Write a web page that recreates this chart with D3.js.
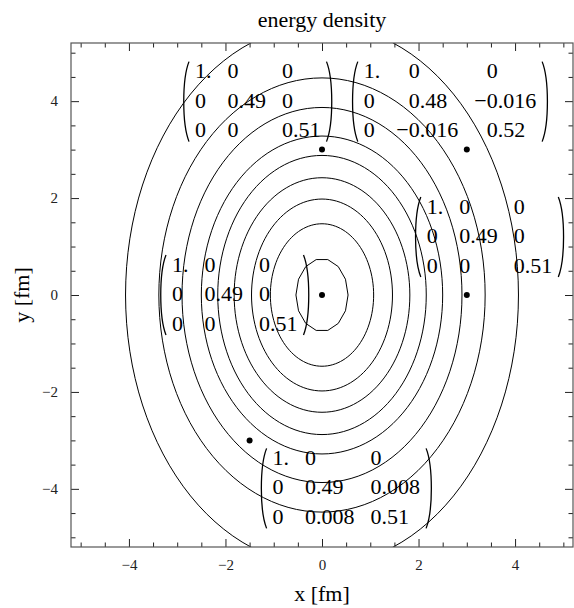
<!DOCTYPE html>
<html>
<head>
<meta charset="utf-8">
<script src="https://cdn.jsdelivr.net/npm/d3@7"></script>
<style>
  body { margin: 0; background: #fff; }
  text { font-family: "Liberation Serif", "DejaVu Serif", serif; }
</style>
</head>
<body>
<script>
// contour semi-axes (fm)
const contourRx = [0.54, 1.07, 1.46, 1.82, 2.16, 2.5, 2.9, 3.38, 4.07];
const contourRy = [0.75, 1.47, 1.98, 2.42, 2.88, 3.28, 3.87, 4.48, 5.58];

// sample points and their matrices
const pointX = [0, 3, 3, 0, -1.5];
const pointY = [3, 3, 0, 0, -3];
const matrices = [
    [["1.", "0", "0"], ["0", "0.49", "0"], ["0", "0", "0.51"]],
    [["1.", "0", "0"], ["0", "0.48", "\u22120.016"], ["0", "\u22120.016", "0.52"]],
    [["1.", "0", "0"], ["0", "0.49", "0"], ["0", "0", "0.51"]],
    [["1.", "0", "0"], ["0", "0.49", "0"], ["0", "0", "0.51"]],
    [["1.", "0", "0"], ["0", "0.49", "0.008"], ["0", "0.008", "0.51"]]
];

const majorTicks = [-4, -2, 0, 2, 4];
const minorTicks = d3.range(-5, 5.01, 0.5).filter(d => d % 2 !== 0);

const width = 574, height = 608;
const fL = 71, fR = 573, fT = 43, fB = 547;

const svg = d3.select("body").append("svg")
    .attr("width", width)
    .attr("height", height);

const x = d3.scaleLinear().domain([-5.2, 5.2]).range([fL, fR]);
const y = d3.scaleLinear().domain([-5.2, 5.2]).range([fB, fT]);

svg.append("clipPath").attr("id", "frame")
  .append("rect")
    .attr("x", fL).attr("y", fT)
    .attr("width", fR - fL).attr("height", fB - fT);

// contours
const ellipse = d3.line()
    .x(d => x(d[0]))
    .y(d => y(d[1]))
    .curve(d3.curveLinearClosed);

const plot = svg.append("g").attr("clip-path", "url(#frame)");
contourRx.forEach((rx, i) => {
    const ry = contourRy[i];
    const n = i === 0 ? 14 : 120;   // inner one is coarse in the original
    const pts = d3.range(n).map(k => {
        const t = 2 * Math.PI * k / n;
        return [rx * Math.cos(t), ry * Math.sin(t)];
    });
    plot.append("path")
        .attr("d", ellipse(pts))
        .attr("fill", "none")
        .attr("stroke", "#000")
        .attr("stroke-width", 1);
});

// axes / frame ticks
function frameAxis(axis, transform, labels, size) {
    const g = svg.append("g").attr("transform", transform)
        .call(axis.tickSizeInner(size).tickSizeOuter(0));
    g.select(".domain").remove();
    g.selectAll(".tick line").attr("stroke", "#222");
    if (!labels) g.selectAll(".tick text").remove();
    else g.selectAll(".tick text").attr("font-size", 15).attr("fill", "#222")
        .style("font-family", "Liberation Serif");
    return g;
}
const fmt = d3.format("d");
frameAxis(d3.axisBottom(x).tickValues(majorTicks).tickFormat(fmt).tickPadding(12), `translate(0,${fB})`, true, -8);
frameAxis(d3.axisBottom(x).tickValues(minorTicks), `translate(0,${fB})`, false, -4.5);
frameAxis(d3.axisTop(x).tickValues(majorTicks), `translate(0,${fT})`, false, -8);
frameAxis(d3.axisTop(x).tickValues(minorTicks), `translate(0,${fT})`, false, -4.5);
frameAxis(d3.axisLeft(y).tickValues(majorTicks).tickFormat(fmt).tickPadding(13), `translate(${fL},0)`, true, -8);
frameAxis(d3.axisLeft(y).tickValues(minorTicks), `translate(${fL},0)`, false, -4.5);
frameAxis(d3.axisRight(y).tickValues(majorTicks), `translate(${fR},0)`, false, -8);
frameAxis(d3.axisRight(y).tickValues(minorTicks), `translate(${fR},0)`, false, -4.5);

svg.append("rect")
    .attr("x", fL).attr("y", fT)
    .attr("width", fR - fL).attr("height", fB - fT)
    .attr("fill", "none")
    .attr("stroke", "#555")
    .attr("stroke-width", 1.2);

// points
svg.selectAll("circle.pt")
  .data(pointX.map((px, i) => [px, pointY[i]]))
  .join("circle")
    .attr("class", "pt")
    .attr("cx", d => x(d[0]))
    .attr("cy", d => y(d[1]))
    .attr("r", 3)
    .attr("fill", "#000");

// matrix labels: box offset (left, top) from the point in px
const labelOffset = [[-140, -88], [-116, -88], [-53, -98], [-163, -40], [10, 8]];
const fs = 22, pad = 13, gap = 16, rowPitch = 29.5, boxH = 80;

const measure = svg.append("text").attr("font-size", fs).attr("visibility", "hidden");
function textWidth(s) {
    if (!s) return 0;
    measure.text(s);
    return measure.node().getComputedTextLength();
}
function splitNum(s) {
    const i = s.indexOf(".");
    return i < 0 ? [s, ""] : [s.slice(0, i), s.slice(i)];
}
function bracket(g, x0, y0, h, open) {
    const w = 7;
    const xa = open ? x0 + w : x0 - w, xb = x0;
    const path = d3.path();
    path.moveTo(xa, y0);
    path.bezierCurveTo(xb, y0 + h * 0.22, xb, y0 + h * 0.78, xa, y0 + h);
    g.append("path").attr("d", path.toString())
        .attr("fill", "none").attr("stroke", "#000").attr("stroke-width", 1.3);
}

matrices.forEach((m, i) => {
    const bx = x(pointX[i]) + labelOffset[i][0];
    const by = y(pointY[i]) + labelOffset[i][1];
    const g = svg.append("g");
    let cx = bx + pad;
    for (let c = 0; c < 3; c++) {
        const parts = m.map(row => splitNum(row[c]));
        const lw = parts.map(p => textWidth(p[0]));
        const rw = parts.map(p => textWidth(p[1]));
        const lmax = d3.max(lw), rmax = d3.max(rw);
        m.forEach((row, r) => {
            g.append("text")
                .attr("x", cx + lmax - lw[r])
                .attr("y", by + 9 + r * rowPitch + 7.5)
                .attr("font-size", fs)
                .text(row[c]);
        });
        cx += lmax + rmax + (c < 2 ? gap : 0);
    }
    cx += pad;
    bracket(g, bx, by, boxH, true);
    bracket(g, cx, by, boxH, false);
});
measure.remove();

// titles
svg.append("text")
    .attr("x", (fL + fR) / 2).attr("y", 27)
    .attr("text-anchor", "middle").attr("font-size", 22)
    .text("energy density");
svg.append("text")
    .attr("x", (fL + fR) / 2).attr("y", 601)
    .attr("text-anchor", "middle").attr("font-size", 22)
    .text("x [fm]");
svg.append("text")
    .attr("transform", `translate(29,${(fT + fB) / 2}) rotate(-90)`)
    .attr("text-anchor", "middle").attr("font-size", 22)
    .text("y [fm]");
</script>
</body>
</html>
